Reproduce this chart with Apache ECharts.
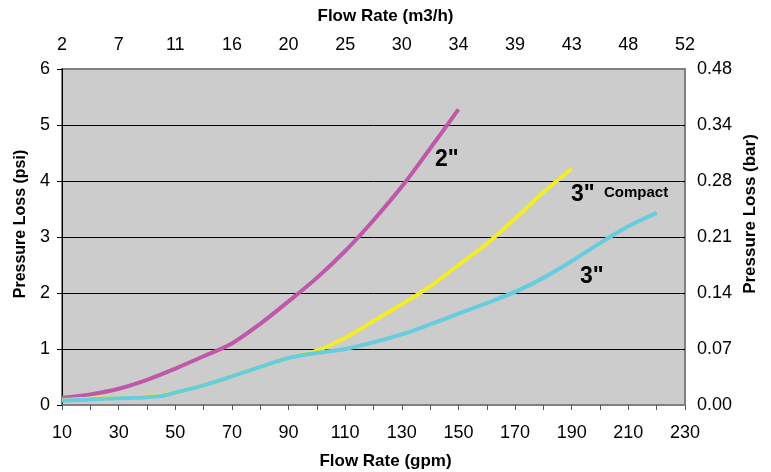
<!DOCTYPE html>
<html><head><meta charset="utf-8">
<script src="https://cdn.jsdelivr.net/npm/echarts@6/dist/echarts.min.js"></script>
<style>html,body{margin:0;padding:0;background:#fff}#c{width:771px;height:472px}</style>
</head><body><div id="c"></div>
<script>
// Flow rate (gpm) and pressure loss (psi)
const gpm2 = [10,20,30,40,50,60,70,80,90,100,110,120,130,140,150];
const psi2 = [0.13,0.19,0.29,0.45,0.65,0.87,1.10,1.45,1.85,2.27,2.75,3.30,3.90,4.58,5.28];

const gpm3c = [10,20,30,40,50,60,70,80,90,100,110,120,130,140,150,160,170,180,190];
const psi3c = [0.09,0.11,0.13,0.15,0.22,0.35,0.51,0.68,0.84,0.97,1.20,1.50,1.80,2.12,2.50,2.88,3.33,3.80,4.22];

const gpm3 = [10,20,30,40,45,50,60,70,80,90,100,110,120,130,140,150,160,170,180,190,200,210,220];
const psi3 = [0.08,0.10,0.12,0.14,0.16,0.22,0.35,0.51,0.68,0.84,0.93,1.00,1.12,1.26,1.44,1.63,1.82,2.02,2.27,2.57,2.89,3.19,3.43];

const topLabels = ['2','7','11','16','20','25','30','34','39','43','48','52'];
const barLabels = ['0.00','0.07','0.14','0.21','0.28','0.34','0.48'];

const pairs = (xs, ys) => xs.map((x, i) => [x, ys[i]]);
const F = 'Liberation Sans, Arial, sans-serif';

const chart = echarts.init(document.getElementById('c'));
chart.setOption({
  animation: false,
  grid: { left: 62, right: 86, top: 69, bottom: 67, show: true, backgroundColor: '#CCCCCC', borderColor: '#808080', borderWidth: 2 },
  xAxis: [
    { type: 'value', position: 'bottom', min: 10, max: 230, interval: 10,
      axisLine: { show: true, lineStyle: { color: '#808080', width: 2 } },
      axisTick: { show: true, length: 5, lineStyle: { color: '#555' } },
      axisLabel: { color: '#000', fontSize: 18, fontFamily: F, margin: 19,
        formatter: v => ((v - 10) % 20 === 0 ? String(v) : '') },
      splitLine: { show: false } },
    { type: 'value', position: 'top', min: 10, max: 230, interval: 20,
      axisLine: { show: false }, axisTick: { show: false },
      axisLabel: { color: '#000', fontSize: 18, fontFamily: F, margin: 15,
        formatter: v => topLabels[Math.round((v - 10) / 20)] },
      splitLine: { show: false } }
  ],
  yAxis: [
    { type: 'value', min: 0, max: 6, interval: 1,
      axisLine: { show: true, lineStyle: { color: '#000', width: 1 } },
      axisTick: { show: true, length: 5, lineStyle: { color: '#000' } },
      axisLabel: { color: '#000', fontSize: 18, fontFamily: F, margin: 12 },
      splitLine: { show: true, lineStyle: { color: ['#CCCCCC','#000','#000','#000','#000','#000','#808080'], width: 1 } } },
    { type: 'value', min: 0, max: 6, interval: 1, position: 'right',
      axisLine: { show: false }, axisTick: { show: false },
      axisLabel: { color: '#000', fontSize: 18, fontFamily: F, margin: 12,
        formatter: v => barLabels[Math.round(v)] },
      splitLine: { show: false } }
  ],
  series: [
    { name: '2"', type: 'line', data: pairs(gpm2, psi2), showSymbol: false, smooth: 0.3,
      lineStyle: { color: '#BF58A8', width: 4 }, z: 3 },
    { name: '3" Compact', type: 'line', data: pairs(gpm3c, psi3c), showSymbol: false, smooth: 0.3,
      lineStyle: { color: '#F3EC28', width: 4 }, z: 3 },
    { name: '3"', type: 'line', data: pairs(gpm3, psi3), showSymbol: false, smooth: 0.3,
      lineStyle: { color: '#66CCDE', width: 4 }, z: 4 }
  ],
  graphic: [
    { type: 'text', left: 'center', top: 8, style: { text: 'Flow Rate (m3/h)', font: 'bold 17px ' + F, fill: '#000' } },
    { type: 'text', left: 'center', top: 453, style: { text: 'Flow Rate (gpm)', font: 'bold 17px ' + F, fill: '#000' } },
    { type: 'text', x: 21, y: 224, rotation: Math.PI / 2, style: { text: 'Pressure Loss (psi)', font: 'bold 16px ' + F, fill: '#000', align: 'center', verticalAlign: 'middle' } },
    { type: 'text', x: 750, y: 214, rotation: Math.PI / 2, style: { text: 'Pressure Loss (bar)', font: 'bold 17px ' + F, fill: '#000', align: 'center', verticalAlign: 'middle' } },
    { type: 'text', x: 435, y: 160, style: { text: '2"', font: 'bold 23px ' + F, fill: '#000', verticalAlign: 'middle' } },
    { type: 'text', x: 571, y: 195, style: { text: '3"', font: 'bold 23px ' + F, fill: '#000', verticalAlign: 'middle' } },
    { type: 'text', x: 604, y: 193, style: { text: 'Compact', font: 'bold 15px ' + F, fill: '#000', verticalAlign: 'middle' } },
    { type: 'text', x: 580, y: 277, style: { text: '3"', font: 'bold 23px ' + F, fill: '#000', verticalAlign: 'middle' } }
  ]
});
</script></body></html>
